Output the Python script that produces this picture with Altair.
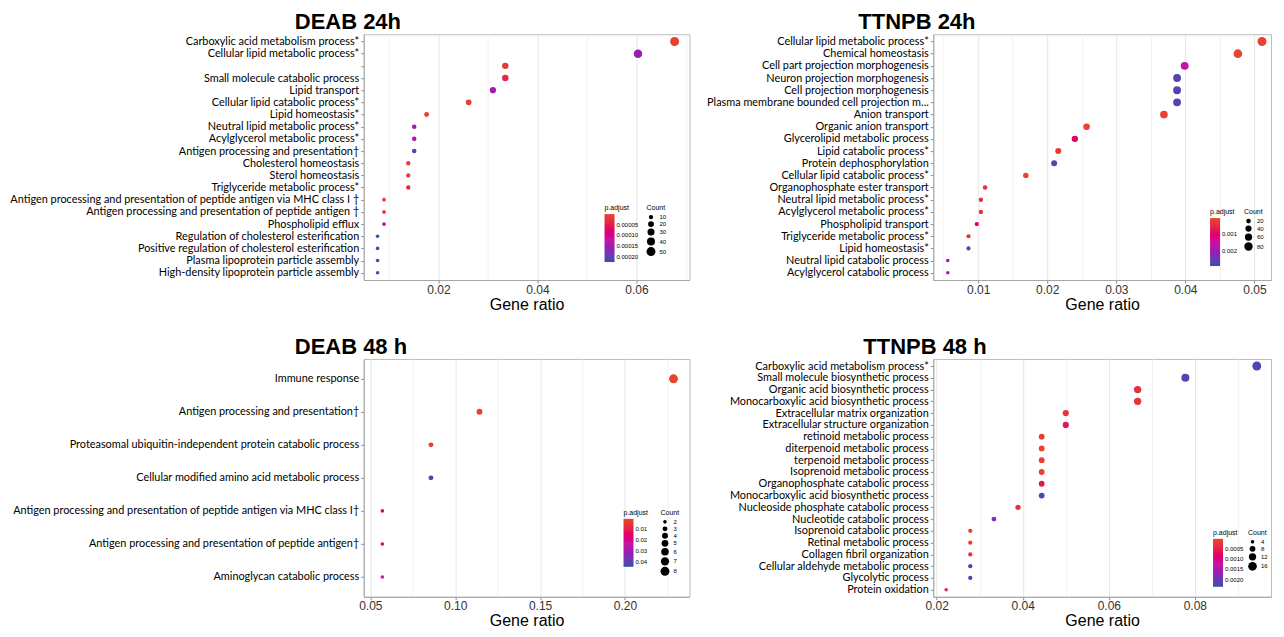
import altair as alt
import pandas as pd

# ---------------- data ----------------
terms_d24 = [
    "Carboxylic acid metabolism process*",
    "Cellular lipid metabolic process*",
    " ",
    "Small molecule catabolic process",
    "Lipid transport",
    "Cellular lipid catabolic process*",
    "Lipid homeostasis*",
    "Neutral lipid metabolic process*",
    "Acylglycerol metabolic process*",
    "Antigen processing and presentation\u2020",
    "Cholesterol homeostasis",
    "Sterol homeostasis",
    "Triglyceride metabolic process*",
    "Antigen processing and presentation of peptide antigen via MHC class I \u2020",
    "Antigen processing and presentation of peptide antigen \u2020",
    "Phospholipid efflux",
    "Regulation of cholesterol esterification",
    "Positive regulation of cholesterol esterification",
    "Plasma lipoprotein particle assembly",
    "High-density lipoprotein particle assembly",
]
ratio_d24 = [0.0677, 0.0603, 0.0335, 0.0335, 0.0310, 0.0261, 0.0176, 0.0151, 0.0151, 0.0151,
             0.0139, 0.0139, 0.0139, 0.0090, 0.0090, 0.0090, 0.0077, 0.0077, 0.0077, 0.0077]
count_d24 = [50, 45, 25, 25, 23, 19, 13, 11, 11, 11, 10, 10, 10, 7, 7, 7, 6, 6, 6, 6]
padj_d24 = [0.00001, 0.00016, 0.00002, 0.00004, 0.00015, 0.00001, 0.00001, 0.00015, 0.00014, 0.00021,
            0.00001, 0.00001, 0.00004, 0.00002, 0.00002, 0.00013, 0.00021, 0.00021, 0.00021, 0.00021]

terms_t24 = [
    "Cellular lipid metabolic process*",
    "Chemical homeostasis",
    "Cell part projection morphogenesis",
    "Neuron projection morphogenesis",
    "Cell projection morphogenesis",
    "Plasma membrane bounded cell projection m...",
    "Anion transport",
    "Organic anion transport",
    "Glycerolipid metabolic process",
    "Lipid catabolic process*",
    "Protein dephosphorylation",
    "Cellular lipid catabolic process*",
    "Organophosphate ester transport",
    "Neutral lipid metabolic process*",
    "Acylglycerol metabolic process*",
    "Phospholipid transport",
    "Triglyceride metabolic process*",
    "Lipid homeostasis*",
    "Neutral lipid catabolic process",
    "Acylglycerol catabolic process",
]
ratio_t24 = [0.0511, 0.0476, 0.0399, 0.0388, 0.0388, 0.0388, 0.0369, 0.0257, 0.0240, 0.0216,
             0.0210, 0.0169, 0.0110, 0.0104, 0.0104, 0.0098, 0.0086, 0.0086, 0.0056, 0.0056]
count_t24 = [91, 85, 71, 69, 69, 69, 66, 46, 43, 38, 37, 30, 20, 18, 18, 17, 15, 15, 10, 10]
padj_t24 = [0.0001, 0.0001, 0.0016, 0.0027, 0.0027, 0.0027, 0.0001, 0.0001, 0.0009, 0.0002,
            0.0027, 0.0001, 0.0004, 0.0004, 0.0004, 0.0010, 0.0004, 0.0025, 0.0019, 0.0019]

terms_d48 = [
    "Immune response",
    "Antigen processing and presentation\u2020",
    "Proteasomal ubiquitin-independent protein catabolic process",
    "Cellular modified amino acid metabolic process",
    "Antigen processing and presentation of peptide antigen via MHC class I\u2020",
    "Antigen processing and presentation of peptide antigen\u2020",
    "Aminoglycan catabolic process",
]
ratio_d48 = [0.2286, 0.1143, 0.0857, 0.0857, 0.0571, 0.0571, 0.0571]
count_d48 = [8, 4, 3, 3, 2, 2, 2]
padj_d48 = [0.001, 0.001, 0.002, 0.044, 0.013, 0.013, 0.022]

terms_t48 = [
    "Carboxylic acid metabolism process*",
    "Small molecule biosynthetic process",
    "Organic acid biosynthetic process",
    "Monocarboxylic acid biosynthetic process",
    "Extracellular matrix organization",
    "Extracellular structure organization",
    "retinoid metabolic process",
    "diterpenoid metabolic process",
    "terpenoid metabolic process",
    "Isoprenoid metabolic process",
    "Organophosphate catabolic process",
    "Monocarboxylic acid biosynthetic process\u200b",
    "Nucleoside phosphate catabolic process",
    "Nucleotide catabolic process",
    "Isoprenoid catabolic process",
    "Retinal metabolic process",
    "Collagen fibril organization",
    "Cellular aldehyde metabolic process",
    "Glycolytic process",
    "Protein oxidation",
]
ratio_t48 = [0.0944, 0.0778, 0.0667, 0.0667, 0.0500, 0.0500, 0.0444, 0.0444, 0.0444, 0.0444,
             0.0444, 0.0444, 0.0389, 0.0333, 0.0278, 0.0278, 0.0278, 0.0278, 0.0278, 0.0222]
count_t48 = [17, 14, 12, 12, 9, 9, 8, 8, 8, 8, 8, 8, 7, 6, 5, 5, 5, 5, 5, 4]
padj_t48 = [0.0022, 0.0022, 0.0003, 0.0003, 0.0003, 0.0006, 0.0001, 0.0001, 0.0001, 0.0001,
            0.0006, 0.0022, 0.0003, 0.0019, 0.0001, 0.0001, 0.0003, 0.0023, 0.0023, 0.0004]

# legend tick values
padj_ticks_d24 = [0.00005, 0.00010, 0.00015, 0.00020]
padj_ticks_t24 = [0.001, 0.002]
padj_ticks_d48 = [0.01, 0.02, 0.03, 0.04]
padj_ticks_t48 = [0.0005, 0.0010, 0.0015, 0.0020]
count_ticks_d24 = [10, 20, 30, 40, 50]
count_ticks_t24 = [20, 40, 60, 80]
count_ticks_d48 = [2, 3, 4, 5, 6, 7, 8]
count_ticks_t48 = [4, 8, 12, 16]

# ---------------- styling ----------------
GRAD = ["#3C4BA8", "#8B22B6", "#CB169F", "#E3184F", "#E8462B"]  # high p -> low p
LABEL_FONT = "Lato"


def panel(terms, ratio, count, padj, title, xdom, xvals, step, fmt,
          pdom, pticks, pfmt, cticks, width, height, leg_x, leg_y, cleg_x, title_dx):
    df = pd.DataFrame({"term": terms, "ratio": ratio, "count": count, "padj": padj})
    major = f"abs(datum.value/{step} - round(datum.value/{step})) < 0.001"
    lo, hi = pdom
    cdom = [-(hi - (hi - lo) * i / 4) for i in range(5)]
    x = alt.X(
        "ratio:Q", title="Gene ratio",
        scale=alt.Scale(domain=xdom, nice=False, zero=False),
        axis=alt.Axis(
            values=xvals,
            labelExpr=f"({major}) ? format(datum.value, '{fmt}') : ''",
            tickOpacity={"condition": {"test": major, "value": 1}, "value": 0},
            gridColor={"condition": {"test": major, "value": "#E6E6E6"}, "value": "#F2F2F2"},
            labelFontSize=12, labelColor="#333333", labelFont="Liberation Sans",
            titleFontSize=16, titleFontWeight="normal", titleColor="black",
            titleFont="Liberation Sans",
            labelPadding=1, titlePadding=1, tickSize=3,
            labelFlush=False, labelOverlap=False,
        ),
    )
    y = alt.Y(
        "term:N", title=None,
        scale=alt.Scale(domain=terms, type="point", padding=0.6),
        axis=alt.Axis(
            labelFont=LABEL_FONT, labelFontSize=10.9, labelColor="black", labelLimit=600,
            labelPadding=2, tickSize=3, gridColor="#EBEBEB",
        ),
    )
    color = alt.Color(
        "negp:Q",
        scale=alt.Scale(domain=cdom, range=GRAD, clamp=True),
        legend=alt.Legend(
            title="p.adjust", orient="none", legendX=leg_x, legendY=leg_y,
            direction="vertical", gradientLength=48, gradientThickness=10,
            values=[-v for v in pticks],
            labelExpr=f"format(-datum.value, '{pfmt}')",
            titleFontSize=7, titleFontWeight="normal", titleFont="Liberation Sans",
            labelFontSize=6, labelFont="Liberation Sans", labelOverlap=False,
            titlePadding=3, gradientStrokeWidth=0,
        ),
    )
    size = alt.Size(
        "count:Q",
        scale=alt.Scale(domain=[min(count), max(count)], range=[13, 80], zero=False),
        legend=alt.Legend(
            title="Count", orient="none", legendX=cleg_x, legendY=leg_y,
            values=cticks, symbolType="circle", symbolFillColor="black",
            symbolStrokeWidth=0, symbolOpacity=1,
            titleFontSize=7, titleFontWeight="normal", titleFont="Liberation Sans",
            labelFontSize=6, labelFont="Liberation Sans", titlePadding=3, rowPadding=1,
        ),
    )
    return (
        alt.Chart(df)
        .transform_calculate(negp="-datum.padj")
        .mark_circle(opacity=1)
        .encode(x=x, y=y, color=color, size=size)
        .properties(
            width=width, height=height,
            title=alt.TitleParams(
                text=title, anchor="start", frame="group", dx=title_dx,
                fontSize=22, font="Liberation Sans", fontWeight="bold", color="black",
                offset=0,
            ),
        )
    )


p1 = panel(terms_d24, ratio_d24, count_d24, padj_d24, "DEAB 24h",
           [0.0049, 0.0707], [0.01, 0.02, 0.03, 0.04, 0.05, 0.06, 0.07], 0.02, ".2f",
           [0.000001, 0.000224], padj_ticks_d24, ".5f", count_ticks_d24,
           326, 246, 241, 170, 283, -69)
p2 = panel(terms_t24, ratio_t24, count_t24, padj_t24, "TTNPB 24h",
           [0.0035, 0.0524], [0.005, 0.01, 0.015, 0.02, 0.025, 0.03, 0.035, 0.04, 0.045, 0.05],
           0.01, ".2f",
           [0.00002, 0.0029], padj_ticks_t24, ".3f", count_ticks_t24,
           338, 246, 277, 174, 311, -75)
p3 = panel(terms_d48, ratio_d48, count_d48, padj_d48, "DEAB 48 h",
           [0.0461, 0.238], [0.05, 0.075, 0.1, 0.125, 0.15, 0.175, 0.2, 0.225], 0.05, ".2f",
           [0.0002, 0.0447], padj_ticks_d48, ".2f", count_ticks_d48,
           326, 238, 260, 150, 297, -69)
p4 = panel(terms_t48, ratio_t48, count_t48, padj_t48, "TTNPB 48 h",
           [0.0192, 0.0977], [0.02, 0.03, 0.04, 0.05, 0.06, 0.07, 0.08, 0.09], 0.02, ".2f",
           [0.00001, 0.00234], padj_ticks_t48, ".4f", count_ticks_t48,
           338, 238, 280, 170, 315, -70)

chart = (
    alt.concat(p1, p2, p3, p4, columns=2, spacing={"row": 22, "column": 15})
    .resolve_scale(color="independent", size="independent", x="independent", y="independent")
    .resolve_legend(color="independent", size="independent")
    .configure_view(stroke="#BDBDBD", strokeWidth=1)
    .configure_axis(domainColor="#A6A6A6", tickColor="#8C8C8C")
    .properties(background="white", padding={"top": 2, "left": 0, "right": 4, "bottom": 0})
)

chart.save("out.html", embed_options={"renderer": "svg", "actions": False})
